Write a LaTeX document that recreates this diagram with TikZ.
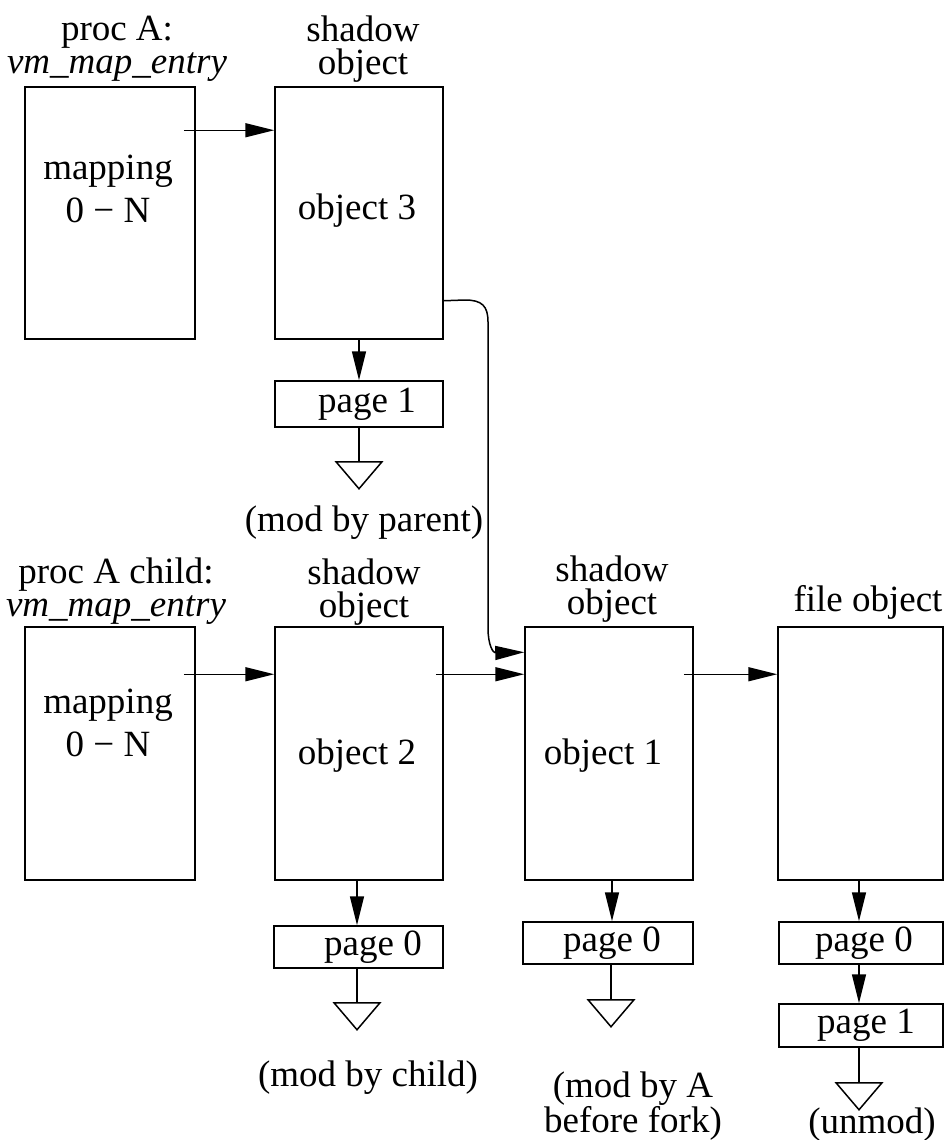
\documentclass[tikz,border=0pt]{standalone}
\usepackage{fontspec}
\setmainfont{Liberation Serif}
\usetikzlibrary{arrows.meta,calc}
\begin{document}
\begin{tikzpicture}[x=1pt,y=-1pt,line width=1.5pt,
  box/.style={draw,rectangle,inner sep=0pt},
  txt/.style={font=\fontsize{37}{33}\selectfont,align=center,inner sep=0pt},
  wide/.style={font=\fontsize{37}{43}\selectfont,align=center,inner sep=0pt},
  arr/.style={-{Triangle[length=29pt,width=14pt]}}]
\useasboundingbox (0,0) rectangle (945,1140);
% boxes
\node[box,minimum width=170pt,minimum height=252pt] (A) at (110,213) {};
\node[box,minimum width=168pt,minimum height=252pt] (O3) at (359,213) {};
\node[box,minimum width=168pt,minimum height=46pt] (P1) at (359,404) {};
\node[box,minimum width=170pt,minimum height=253pt] (C) at (110,753.5) {};
\node[box,minimum width=168pt,minimum height=253pt] (O2) at (359,753.5) {};
\node[box,minimum width=168pt,minimum height=253pt] (O1) at (609,753.5) {};
\node[box,minimum width=165pt,minimum height=253pt] (F) at (860.5,753.5) {};
\node[box,minimum width=169pt,minimum height=42pt] (P0a) at (358.5,947) {};
\node[box,minimum width=170pt,minimum height=42pt] (P0b) at (608,943) {};
\node[box,minimum width=164pt,minimum height=42pt] (P0c) at (861,943) {};
\node[box,minimum width=164pt,minimum height=43pt] (P1c) at (861,1025.5) {};
% labels
\node[txt] (lA) at (117,49) {proc A:\\\textit{vm\_map\_entry}};
\node[txt] (lO3) at (363,49) {shadow\\object};
\node[wide] (tA) at (108,189) {mapping\\0 − N};
\node[txt] (tO3) at (357,211) {object 3};
\node[txt] (tP1) at (367,404) {page 1};
\node[txt] (mP1) at (364,523) {(mod by parent)};
\node[txt] (lC) at (116,591) {proc A child:\\\textit{vm\_map\_entry}};
\node[txt] (lO2) at (364,592) {shadow\\object};
\node[wide] (tC) at (108,723) {mapping\\0 − N};
\node[txt] (tO2) at (357,756) {object 2};
\node[txt] (lO1) at (612,589) {shadow\\object};
\node[txt] (lF) at (868,602) {file object};
\node[txt] (tO1) at (603,756) {object 1};
\node[txt] (tP0a) at (373,947) {page 0};
\node[txt] (tP0b) at (612,943) {page 0};
\node[txt] (tP0c) at (864,943) {page 0};
\node[txt] (tP1c) at (866,1025) {page 1};
\node[txt] (mP0a) at (368,1078) {(mod by child)};
\node[txt] (mP0b) at (633,1106) {(mod by A\\before fork)};
\node[txt] (mP1c) at (872,1125) {(unmod)};
% horizontal arrows
\draw[arr] ([xshift=-12pt,yshift=-44pt]A.north east) -- ([yshift=-44pt]O3.north west);
\draw[arr] ([xshift=-12pt,yshift=-48pt]C.north east) -- ([yshift=-48pt]O2.north west);
\draw[arr] ([xshift=-8pt,yshift=-48pt]O2.north east) -- ([yshift=-48pt]O1.north west);
\draw[arr] ([xshift=-10pt,yshift=-48pt]O1.north east) -- ([yshift=-48pt]F.north west);
% curved arrow
\coordinate (k1) at (465,300);
\coordinate (k2) at (488,628);
\draw[arr] ([yshift=39pt]O3.south east) -- (k1) .. controls (482,300) and (488,306) .. (488,322) -- (k2) .. controls (488,645) and (493,653) .. ([yshift=-26pt]O1.north west);
% vertical arrows
\draw[arr] (O3.south) -- (P1.north);
\draw[arr] ([xshift=-2pt]O2.south) -- ([xshift=-2pt]O2.south |- P0a.north);
\draw[arr] ([xshift=3pt]O1.south) -- ([xshift=3pt]O1.south |- P0b.north);
\draw[arr] ([xshift=-1.5pt]F.south) -- ([xshift=-1.5pt]F.south |- P0c.north);
\draw[arr] ([xshift=-2pt]P0c.south) -- ([xshift=-2pt]P0c.south |- P1c.north);
% ground triangles
\coordinate (t1) at ($(P1.south)+(0,-34pt)$);
\coordinate (t2) at ($(P0a.south)+(-1.5pt,-34pt)$);
\coordinate (t3) at ($(P0b.south)+(3pt,-35pt)$);
\coordinate (t4) at ($(P1c.south)+(-2pt,-35pt)$);
\draw (P1.south) -- (t1);
\draw (t2 |- P0a.south) -- (t2);
\draw (t3 |- P0b.south) -- (t3);
\draw (t4 |- P1c.south) -- (t4);
\foreach \t in {t1,t2,t3,t4}{
  \draw (\t) +(-23,0) -- +(23,0) -- +(0,27) -- cycle;
}
\end{tikzpicture}
\end{document}
